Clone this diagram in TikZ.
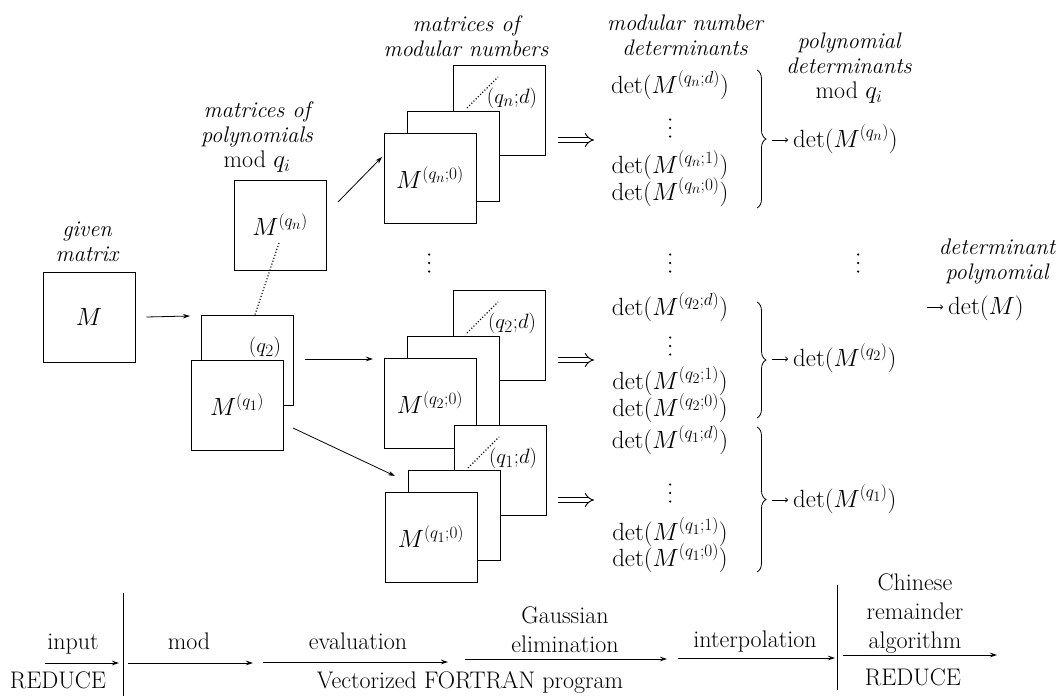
\documentclass[tikz,border=0pt]{standalone}
\usetikzlibrary{arrows.meta,decorations.pathreplacing}
\renewcommand\defaultscriptratio{.76}
\renewcommand\defaultscriptscriptratio{.6}
\begin{document}
\begin{tikzpicture}[x=1pt,y=-1pt,
  every node/.style={font=\fontsize{24}{29}\selectfont, inner sep=0pt},
  lbl/.style={font=\fontsize{22.5}{25}\selectfont\itshape, align=center},
  mbox/.style={draw, fill=white, minimum width=92pt, minimum height=90pt, line width=0.9pt},
  smalll/.style={font=\fontsize{22}{25}\selectfont},
  dt/.style={font=\fontsize{25}{29}\selectfont, text height=19.5pt, text depth=5.5pt},
  tl/.style={text height=17pt, text depth=5pt},
  arr/.style={-{Stealth[length=7pt,width=4.5pt]}, line width=0.8pt},
  sarr/.style={-{To[length=3pt,width=5pt]}, line width=0.6pt},
  impl/.style={double=white, double distance=4pt, line width=0.9pt, -{Implies[length=6pt]}},
  dotl/.style={dotted, line width=1.1pt},
  bar/.style={line width=0.8pt},
  vd/.style={minimum width=4pt, minimum height=22pt,
    path picture={\fill (path picture bounding box.center) circle (1.25pt)
      ++(0,8.5pt) circle (1.25pt) ++(0,-17pt) circle (1.25pt);}}]

\useasboundingbox (0,0) rectangle (1060,696);

% ---------- headers ----------
\node[lbl] (hgiven) at (87,242) {given\\matrix};
\node[lbl] (hpoly) at (257,137) {matrices of\\polynomials\\\fontsize{24}{25}\selectfont\upshape mod $q_i$};
\node[lbl] (hmod) at (466,36) {matrices of\\modular numbers};
\node[lbl] (hdet) at (685,35) {modular number\\determinants};
\node[lbl] (hpd) at (849,68) {polynomial\\determinants\\\fontsize{24}{25}\selectfont\upshape mod $q_i$};
\node[lbl] (hdp) at (997,261) {determinant\\polynomial};

% ---------- given matrix and polynomial matrices ----------
\node[mbox] (M) at (89,317) {$M$};
\node[mbox] (Mqn) at (280,225) {$M^{(q_n)}$};
\node[mbox] (Mq2) at (247,360) {};
\node[smalll] (q2l) at (265,347) {$(q_2)$};
\node[mbox] (Mq1) at (237,405) {$M^{(q_1)}$};
\coordinate (dq1) at (279,243);
\draw[dotl] (dq1) -- (Mq2.north -| 255,0);

% ---------- stack q_n ----------
\node[mbox] (Bn) at (499,110) {};
\draw[dotl] ([shift={(-32,-2)}]Bn.center) -- ([shift={(-1,-33)}]Bn.center);
\node[smalll] (Ln) at ([shift={(13,-12)}]Bn.center) {$(q_n{;}d)$};
\node[mbox] (Cn) at (453,156) {};
\node[mbox] (An) at (430,178) {$M^{(q_n{;}0)}$};

% ---------- stack q_2 ----------
\node[mbox] (B2) at (499,335) {};
\draw[dotl] ([shift={(-32,-2)}]B2.center) -- ([shift={(-1,-33)}]B2.center);
\node[smalll] (L2) at ([shift={(13,-12)}]B2.center) {$(q_2{;}d)$};
\node[mbox] (C2) at (453,381) {};
\node[mbox] (A2) at (430,403) {$M^{(q_2{;}0)}$};

% ---------- stack q_1 ----------
\node[mbox] (B1) at (500,470) {};
\draw[dotl] ([shift={(-32,-2)}]B1.center) -- ([shift={(-1,-33)}]B1.center);
\node[smalll] (L1) at ([shift={(13,-12)}]B1.center) {$(q_1{;}d)$};
\node[mbox] (C1) at (454,515) {};
\node[mbox] (A1) at (431,537) {$M^{(q_1{;}0)}$};

\node[vd] (vs) at (429,263) {};

% ---------- arrows between matrices ----------
\coordinate (aMe) at (190,316);
\draw[arr] ([xshift=11pt]M.east) -- (aMe);
\coordinate (aus) at (338,202);
\coordinate (aue) at (382,157);
\draw[arr] (aus) -- (aue);
\coordinate (ams) at (305,359);
\coordinate (ame) at (373,359);
\draw[arr] (ams) -- (ame);
\coordinate (ads) at (293,428);
\coordinate (ade) at (395,476);
\draw[arr] (ads) -- (ade);

% ---------- implication arrows ----------
\coordinate (Ins) at (558,140); \coordinate (Ine) at (594,140);
\coordinate (I2s) at (558,360); \coordinate (I2e) at (594,360);
\coordinate (I1s) at (558,500); \coordinate (I1e) at (594,500);
\draw[impl] (Ins) -- (Ine);
\draw[impl] (I2s) -- (I2e);
\draw[impl] (I1s) -- (I1e);

% ---------- determinant column ----------
\node[dt] (dnd) at (670,86) {$\det(M^{(q_n{;}d)})$};
\node[vd] (dnv) at (670,128) {};
\node[dt] (dn1) at (670,166) {$\det(M^{(q_n{;}1)})$};
\node[dt] (dn0) at (670,193) {$\det(M^{(q_n{;}0)})$};

\node[vd] (dv) at (670,263) {};

\node[dt] (d2d) at (670,308) {$\det(M^{(q_2{;}d)})$};
\node[vd] (d2v) at (670,346) {};
\node[dt] (d21) at (670,382) {$\det(M^{(q_2{;}1)})$};
\node[dt] (d20) at (670,409) {$\det(M^{(q_2{;}0)})$};

\node[dt] (d1d) at (670,441) {$\det(M^{(q_1{;}d)})$};
\node[vd] (d1v) at (670,493) {};
\node[dt] (d11) at (670,533) {$\det(M^{(q_1{;}1)})$};
\node[dt] (d10) at (670,559) {$\det(M^{(q_1{;}0)})$};

% ---------- braces ----------
\coordinate (bnT) at (757,70);  \coordinate (bnB) at (757,208);
\coordinate (b2T) at (757,302); \coordinate (b2B) at (757,418);
\coordinate (b1T) at (757,427); \coordinate (b1B) at (757,572);
\draw[decorate, decoration={brace, amplitude=9pt}, line width=0.8pt] (bnT) -- (bnB);
\draw[decorate, decoration={brace, amplitude=9pt}, line width=0.8pt] (b2T) -- (b2B);
\draw[decorate, decoration={brace, amplitude=9pt}, line width=0.8pt] (b1T) -- (b1B);

% ---------- polynomial determinants ----------
\node[dt, anchor=west] (Rn) at (793,140) {$\det(M^{(q_n)})$};
\node[dt, anchor=west] (R2) at (793,359) {$\det(M^{(q_2)})$};
\node[dt, anchor=west] (R1) at (793,500) {$\det(M^{(q_1)})$};
\coordinate (tn) at (772,140);
\coordinate (t2) at (772,359);
\coordinate (t1) at (772,500);
\draw[sarr] (tn) -- ([xshift=-5pt]Rn.west);
\draw[sarr] (t2) -- ([xshift=-5pt]R2.west);
\draw[sarr] (t1) -- ([xshift=-5pt]R1.west);
\node[vd] (rv) at (858,263) {};

% ---------- final result ----------
\node[dt, anchor=west] (RM) at (948,307) {$\det(M)$};
\coordinate (tM) at (927,307);
\draw[sarr] (tM) -- ([xshift=-5pt]RM.west);

% ---------- bottom time line ----------
\node[tl] (tinput) at (73,643) {input};
\node[tl] (tred1) at (58,682) {REDUCE};
\node[tl] (tmod) at (189,643) {mod};
\node[tl] (teval) at (358,643) {evaluation};
\node[tl] (tvf) at (470,682) {Vectorized FORTRAN program};
\node[align=center] (tgauss) at (565,630) {Gaussian\\elimination};
\node[tl] (tinterp) at (755,641) {interpolation};
\node[align=center] (tcra) at (915,614) {Chinese\\remainder\\algorithm};
\node[tl] (tred2) at (913,679) {REDUCE};

\coordinate (v1t) at (123,593); \coordinate (v1b) at (123,696);
\coordinate (v2t) at (837,585); \coordinate (v2b) at (837,690);
\draw[bar] (v1t) -- (v1b);
\draw[bar] (v2t) -- (v2b);

\coordinate (i1) at (45,663);  \coordinate (i2) at (119,663);
\coordinate (m1) at (128,663); \coordinate (m2) at (253,663);
\coordinate (e1) at (263,662); \coordinate (e2) at (448,662);
\coordinate (g1) at (465,659); \coordinate (g2) at (667,659);
\coordinate (p1) at (678,658); \coordinate (p2) at (835,658);
\coordinate (c1) at (843,655); \coordinate (c2) at (997,655);
\draw[arr] (i1) -- (i2);
\draw[arr] (m1) -- (m2);
\draw[arr] (e1) -- (e2);
\draw[arr] (g1) -- (g2);
\draw[arr] (p1) -- (p2);
\draw[arr] (c1) -- (c2);
\end{tikzpicture}
\end{document}
